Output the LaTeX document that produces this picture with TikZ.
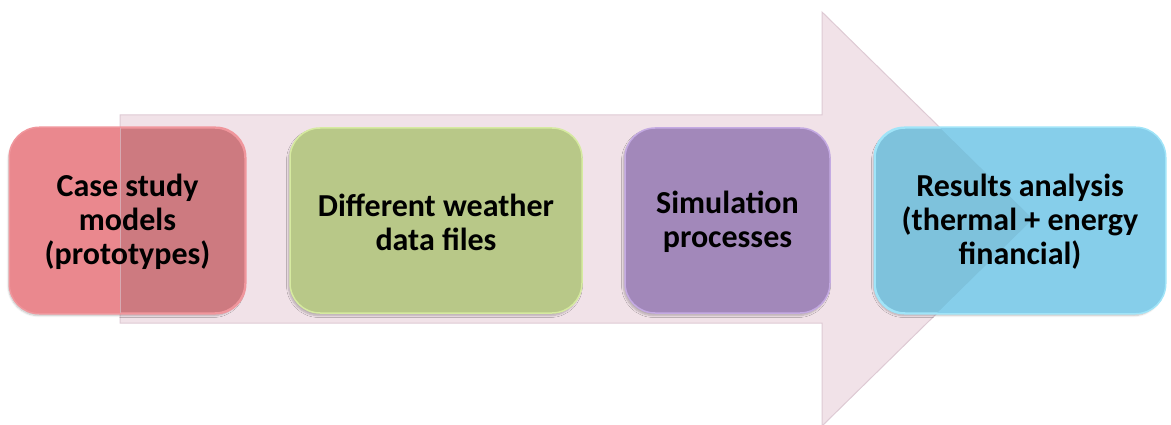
\documentclass[tikz,border=0pt]{standalone}
\usepackage{fontspec}
\setmainfont{Carlito}
\usetikzlibrary{shadows.blur}
\definecolor{arrowfill}{RGB}{241,226,232}
\definecolor{arrowline}{RGB}{222,202,212}
\definecolor{redin}{RGB}{205,122,128}
\definecolor{redout}{RGB}{234,136,142}
\definecolor{redhi}{RGB}{240,150,156}
\definecolor{greenin}{RGB}{184,200,136}
\definecolor{greenhi}{RGB}{214,234,160}
\definecolor{purplein}{RGB}{162,136,186}
\definecolor{purplehi}{RGB}{196,170,226}
\definecolor{bluein}{RGB}{126,194,220}
\definecolor{blueout}{RGB}{134,206,234}
\definecolor{bluehi}{RGB}{160,228,248}
\begin{document}
\begin{tikzpicture}[x=1pt,y=-1pt,
  stepbox/.style={rounded corners=30pt, minimum height=185pt, inner sep=0pt,
    line width=1.5pt,
    blur shadow={shadow xshift=-1.5pt, shadow yshift=-2.5pt, shadow blur steps=6, shadow opacity=25}},
  steptext/.style={align=center, font=\fontsize{32}{34}\selectfont\bfseries, text=black, inner sep=0pt},
  bigarrow/.style={fill=arrowfill, draw=arrowline, line width=1pt}]
\useasboundingbox (0,0) rectangle (1171,425);
% big arrow
\draw[bigarrow] (120,115) -- (822,115) -- (822,12) -- (1033,219) -- (822,426) -- (822,323) -- (120,323) -- cycle;
% boxes
\node[stepbox, fill=redin, draw=redhi, minimum width=235pt] (b1) at (127.5,220.5) {};
\node[stepbox, fill=greenin, draw=greenhi, minimum width=292pt] (b2) at (436,220.5) {};
\node[stepbox, fill=purplein, draw=purplehi, minimum width=205pt] (b3) at (727.5,220.5) {};
\node[stepbox, fill=bluein, draw=bluehi, minimum width=290pt] (b4) at (1020,220.5) {};
% brighter parts outside the big arrow
\begin{scope}
  \clip[rounded corners=30pt] (b1.south west) rectangle (b1.north east);
  \fill[redout] (0,0) rectangle (120,425);
  \draw[arrowline!60!redin, line width=1pt] (120,0) -- (120,425);
\end{scope}
\draw[redhi, line width=1.5pt, rounded corners=30pt] (b1.south west) rectangle (b1.north east);
\begin{scope}
  \clip[rounded corners=30pt] (b4.south west) rectangle (b4.north east);
  \fill[blueout] (822,12) -- (1033,219) -- (822,426) -- (1171,426) -- (1171,0) -- (822,0) -- cycle;
\end{scope}
\draw[bluehi, line width=1.5pt, rounded corners=30pt] (b4.south west) rectangle (b4.north east);
% texts
\node[steptext] (t1) at (127.5,222) {Case study\\models\\(prototypes)};
\node[steptext] (t2) at (436,222) {Different weather\\data files};
\node[steptext] (t3) at (727.5,222) {Simulation\\processes};
\node[steptext] (t4) at (1020,222) {Results analysis\\(thermal + energy\\financial)};
\end{tikzpicture}
\end{document}
